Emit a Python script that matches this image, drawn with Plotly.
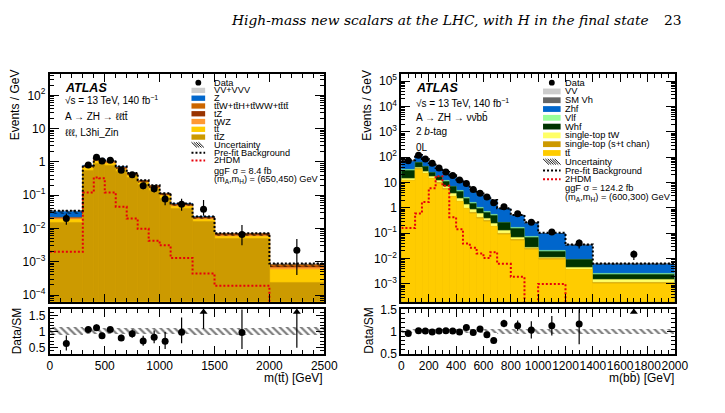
import plotly.graph_objects as go

W, H = 725, 413
FONT = "Liberation Sans, Arial, sans-serif"

# ---------------- left: A -> ZH -> lltt ----------------
L_edges = [0, 300, 400, 450, 500, 600, 700, 800, 900, 1000, 1100, 1300, 1500, 2000, 2500]
L_ttZ = [0.0146, 0.56, 0.91, 0.91, 0.78, 0.52, 0.33, 0.2, 0.14, 0.081, 0.04, 0.016, 0.005, 0.00024]
L_tt = [0.0044, 0.09, 0.14, 0.14, 0.12, 0.08, 0.05, 0.031, 0.022, 0.013, 0.006, 0.0027, 0.0008, 0.00034]
L_tWZ = [0.0008, 0.03, 0.05, 0.05, 0.043, 0.029, 0.018, 0.011, 0.008, 0.005, 0.0023, 0.001, 0.0003, 0.00007]
L_tZ = [0.0005, 0.025, 0.04, 0.04, 0.035, 0.023, 0.014, 0.009, 0.006, 0.004, 0.0019, 0.0008, 0.00025, 0.00006]
L_ttW = [0.0007, 0.035, 0.065, 0.065, 0.06, 0.04, 0.024, 0.016, 0.011, 0.0062, 0.0033, 0.0013, 0.0004, 0.00009]
L_Z = [0.0108, 0.008, 0.012, 0.012, 0.01, 0.006, 0.003, 0.002, 0.002, 0.0006, 0.0004, 0.0001, 0.00004, 0.00001]
L_VV = [0.0002, 0.002, 0.003, 0.003, 0.002, 0.002, 0.001, 0.001, 0.001, 0.0002, 0.0001, 0.0001, 0.00001, 0.00001]
L_data = [0.02, 0.8, 1.37, 1.06, 1.12, 0.56, 0.41, 0.19, 0.156, 0.077, 0.053, 0.038, 0.0066, 0.0022]
L_err_up = [0.008, 0.07, 0.12, 0.1, 0.085, 0.07, 0.06, 0.045, 0.04, 0.032, 0.025, 0.034, 0.006, 0.0026]
L_err_dn = [0.007, 0.07, 0.11, 0.1, 0.08, 0.065, 0.055, 0.04, 0.035, 0.027, 0.019, 0.014, 0.0035, 0.0018]
L_prefit = [0.034, 0.78, 1.25, 1.25, 1.1, 0.73, 0.46, 0.28, 0.2, 0.115, 0.056, 0.023, 0.0072, 0.00088]
L_signal = [0.002, 0.12, 0.34, 0.32, 0.12, 0.045, 0.02, 0.0098, 0.0043, 0.0031, 0.0013, 0.00044, 0.00019, 0.00005]
L_unc = [0.12, 0.1, 0.1, 0.1, 0.1, 0.1, 0.1, 0.1, 0.1, 0.1, 0.1, 0.11, 0.11, 0.12]
L_comps = [L_ttZ, L_tt, L_tWZ, L_tZ, L_ttW, L_Z, L_VV]
L_colors = ["#cc9a00", "#ffcc00", "#ff9933", "#993300", "#cc6600", "#0066cc", "#cccccc"]

# ---------------- right: A -> ZH -> vvbb ----------------
R_edges = [0, 100, 150, 200, 250, 300, 350, 400, 450, 500, 550, 600, 650, 700, 800, 900, 1000, 1200, 1400, 2000]
R_tt = [11.5, 33, 22, 14, 9.5, 5.5, 2.7, 1.7, 0.9, 0.6, 0.38, 0.3, 0.18, 0.09, 0.052, 0.023, 0.0095, 0.0035, 0.001]
R_stop_st = [0.5, 1, 0.8, 0.5, 0.35, 0.25, 0.15, 0.1, 0.06, 0.04, 0.03, 0.02, 0.01, 0.006, 0.003, 0.001, 0.0003, 0.0003, 0.0001]
R_stop_tW = [2.5, 4, 3.5, 2.5, 1.8, 1.2, 0.9, 0.6, 0.4, 0.22, 0.16, 0.07, 0.04, 0.03, 0.015, 0.004, 0.0015, 0.0004, 0.0004]
R_Whf = [16, 22, 15, 7, 5, 4, 2.9, 1.9, 1.0, 0.66, 0.36, 0.26, 0.28, 0.125, 0.085, 0.04, 0.008, 0.0045, 0.0009]
R_Vlf = [2, 3, 2.5, 1.5, 1.0, 0.6, 0.4, 0.3, 0.2, 0.1, 0.07, 0.05, 0.04, 0.02, 0.012, 0.005, 0.0015, 0.0006, 0.0002]
R_Zhf = [36, 49, 36, 30, 17.3, 12.5, 10.7, 7.5, 5.4, 3.5, 2.4, 2.05, 1.36, 0.63, 0.33, 0.176, 0.075, 0.0246, 0.0034]
R_SMVh = [4, 5, 3, 2.5, 1.5, 1.0, 0.7, 0.5, 0.3, 0.2, 0.12, 0.1, 0.06, 0.03, 0.015, 0.007, 0.002, 0.0006, 0.0001]
R_VV = [2.5, 2, 1.2, 1.0, 0.6, 0.4, 0.3, 0.2, 0.15, 0.1, 0.07, 0.05, 0.03, 0.015, 0.008, 0.004, 0.002, 0.0005, 0.0001]
R_data = [72, 121, 85, 58.5, 37.5, 26, 19, 12.7, 9.2, 5.3, 3.8, 2.7, 1.6, 1.12, 0.59, 0.27, 0.113, 0.041, 0.0148]
R_err = [1.5, 2.4, 2.0, 1.5, 1.2, 1.0, 0.8, 0.5, 0.4, 0.3, 0.2, 0.17, 0.12, 0.08, 0.06, 0.05, 0.022, 0.016, 0.006]
R_prefit = [77, 122, 86, 60, 38, 26, 19.3, 13.2, 8.6, 5.5, 3.7, 3.0, 2.05, 0.98, 0.53, 0.27, 0.104, 0.036, 0.0064]
R_signal = [0.16, 0.6, 1.7, 6, 18, 7.5, 0.43, 0.145, 0.039, 0.027, 0.016, 0.0105, 0.018, 0.0062, 0.0019, 1e-6, 0.001, 1e-6, 1e-6]
R_unc = [0.05, 0.04, 0.04, 0.04, 0.04, 0.04, 0.04, 0.04, 0.04, 0.05, 0.05, 0.05, 0.05, 0.06, 0.06, 0.06, 0.06, 0.06, 0.06]
R_comps = [R_tt, R_stop_st, R_stop_tW, R_Whf, R_Vlf, R_Zhf, R_SMVh, R_VV]
R_colors = ["#ffcc00", "#cc9900", "#ffff66", "#003300", "#99ff99", "#0066cc", "#666666", "#cccccc"]


def px(x):
    return x / W


def py(y):
    return 1 - y / H


def centers(e):
    return [(a + b) / 2 for a, b in zip(e[:-1], e[1:])]


def widths(e):
    return [b - a for a, b in zip(e[:-1], e[1:])]


fig = go.Figure()

HATCH = dict(shape="\\", fgcolor="black", bgcolor="rgba(0,0,0,0)", size=5, solidity=0.45, fillmode="overlay")


def add_main(edges, comps, colors, data, up, dn, prefit, signal, unc, xa, ya):
    ctr, wid = centers(edges), widths(edges)
    n = len(ctr)
    run = [0.0] * n
    cum = []
    for c in comps:
        run = [r + v for r, v in zip(run, c)]
        cum.append(run)
    for i in reversed(range(len(comps))):
        fig.add_trace(go.Bar(x=ctr, y=cum[i], width=wid, xaxis=xa, yaxis=ya,
                             marker=dict(color=colors[i], line=dict(width=0.5, color=colors[i])),
                             showlegend=False, hoverinfo="skip"))
    total = cum[-1]
    fig.add_trace(go.Bar(x=ctr, y=[2 * u * t for u, t in zip(unc, total)],
                         base=[t * (1 - u) for u, t in zip(unc, total)], width=wid,
                         xaxis=xa, yaxis=ya, showlegend=False, hoverinfo="skip",
                         marker=dict(color="rgba(0,0,0,0)", line=dict(width=0), pattern=HATCH)))
    fig.add_trace(go.Scatter(x=edges, y=list(signal) + [signal[-1]], mode="lines", xaxis=xa, yaxis=ya,
                             line=dict(shape="hv", color="#e8000b", width=2, dash="2px,2px"),
                             showlegend=False, hoverinfo="skip"))
    fig.add_trace(go.Scatter(x=edges, y=list(prefit) + [prefit[-1]], mode="lines", xaxis=xa, yaxis=ya,
                             line=dict(shape="hv", color="black", width=2, dash="2px,2px"),
                             showlegend=False, hoverinfo="skip"))
    fig.add_trace(go.Scatter(x=ctr, y=data, mode="markers", xaxis=xa, yaxis=ya,
                             marker=dict(color="black", size=7),
                             error_y=dict(type="data", symmetric=False, array=up, arrayminus=dn,
                                          color="black", thickness=1.2, width=0),
                             showlegend=False, hoverinfo="skip"))
    return total


def add_ratio(edges, data, up, dn, total, unc, xa, ya, ymin, ymax):
    ctr, wid = centers(edges), widths(edges)
    fig.add_trace(go.Bar(x=ctr, y=[2 * u for u in unc], base=[1 - u for u in unc], width=wid,
                         xaxis=xa, yaxis=ya, showlegend=False, hoverinfo="skip",
                         marker=dict(color="rgba(0,0,0,0)", line=dict(width=0), pattern=HATCH)))
    xs, ys, eu, ed = [], [], [], []
    ax_, ay_, aed = [], [], []
    for c, d, u, l, t in zip(ctr, data, up, dn, total):
        r = d / t
        if r > ymax:
            ym = ymax - 0.06 * (ymax - ymin)
            ax_.append(c)
            ay_.append(ym)
            aed.append(max(ym - (d - l) / t, 0))
        else:
            xs.append(c)
            ys.append(r)
            eu.append(u / t)
            ed.append(l / t)
    fig.add_trace(go.Scatter(x=xs, y=ys, mode="markers", xaxis=xa, yaxis=ya,
                             marker=dict(color="black", size=7),
                             error_y=dict(type="data", symmetric=False, array=eu, arrayminus=ed,
                                          color="black", thickness=1.2, width=0),
                             showlegend=False, hoverinfo="skip"))
    fig.add_trace(go.Scatter(x=ax_, y=ay_, mode="markers", xaxis=xa, yaxis=ya,
                             marker=dict(color="black", size=7, symbol="triangle-up"),
                             error_y=dict(type="data", symmetric=False, array=[0] * len(ax_), arrayminus=aed,
                                          color="black", thickness=1.2, width=0),
                             showlegend=False, hoverinfo="skip", cliponaxis=False))


L_total = add_main(L_edges, L_comps, L_colors, L_data, L_err_up, L_err_dn, L_prefit, L_signal, L_unc, "x", "y")
add_ratio(L_edges, L_data, L_err_up, L_err_dn, L_total, L_unc, "x2", "y2", 0.3, 1.7)
R_total = add_main(R_edges, R_comps, R_colors, R_data, R_err, R_err, R_prefit, R_signal, R_unc, "x3", "y3")
add_ratio(R_edges, R_data, R_err, R_err, R_total, R_unc, "x4", "y4", 0.5, 1.5)

tickfont = dict(family=FONT, size=12, color="black")
common = dict(showline=True, linewidth=2, linecolor="black", mirror="allticks", ticks="inside",
              tickcolor="black", tickwidth=1.2, showgrid=False, zeroline=False, tickangle=0)


def xaxis(dom, rng, dtick, mstep, anchor, labels):
    return dict(domain=dom, range=rng, anchor=anchor, tick0=0, dtick=dtick, ticklen=8,
                showticklabels=labels, tickfont=tickfont,
                minor=dict(ticks="inside", ticklen=4, tickwidth=1, tickcolor="black", tick0=0, dtick=mstep),
                **common)


def sup(k):
    if k == 0:
        return "1"
    if k == 1:
        return "10"
    return "10<sup>%s</sup>" % (str(k).replace("-", "\u2212"))


def logaxis(dom, lo, hi, anchor):
    ks = list(range(int(lo) - 1, int(hi) + 2))
    return dict(domain=dom, type="log", range=[lo, hi], anchor=anchor, tickmode="array",
                tickvals=[10.0 ** k for k in ks], ticktext=[sup(k) for k in ks], ticklen=9,
                tickfont=dict(family=FONT, size=12, color="black"),
                minor=dict(ticks="inside", ticklen=4, tickwidth=1, tickcolor="black",
                           tickvals=[m * 10.0 ** k for k in ks for m in range(2, 10)]),
                **common)


def ratioaxis(dom, lo, hi, anchor):
    return dict(domain=dom, range=[lo, hi], anchor=anchor, tickmode="array",
                tickvals=[0.5, 1, 1.5], ticktext=["0.5", "1", "1.5"], ticklen=8, tickfont=tickfont,
                minor=dict(ticks="inside", ticklen=4, tickwidth=1, tickcolor="black", tick0=0, dtick=0.1),
                **common)


Lx = [px(48), px(329)]
Rx = [px(408), px(688)]
main_y = [py(305), py(69)]
rat_y = [py(359), py(313)]

fig.update_layout(
    width=W, height=H, margin=dict(l=0, r=0, t=0, b=0),
    paper_bgcolor="white", plot_bgcolor="white", barmode="overlay", bargap=0,
    showlegend=False, font=dict(family=FONT, color="black"),
    xaxis=xaxis(Lx, [0, 2500], 500, 100, "y", False),
    yaxis=logaxis(main_y, -4.2, 2.65, "x"),
    xaxis2=xaxis(Lx, [0, 2500], 500, 100, "y2", True),
    yaxis2=ratioaxis(rat_y, 0.3, 1.7, "x2"),
    xaxis3=xaxis(Rx, [0, 2000], 200, 50, "y3", False),
    yaxis3=logaxis(main_y, -3.7, 5.3, "x3"),
    xaxis4=xaxis(Rx, [0, 2000], 200, 50, "y4", True),
    yaxis4=ratioaxis(rat_y, 0.5, 1.5, "x4"),
)

ann = []
shapes = []


def text(x, y, s, size=9, anchor="left", angle=0, family=FONT):
    ann.append(dict(x=px(x), y=py(y), xref="paper", yref="paper", text=s, showarrow=False,
                    xanchor=anchor, yanchor="middle", textangle=angle, borderpad=0,
                    font=dict(family=family, size=size, color="black")))


# header
text(232, 13, "<i>High-mass new scalars at the LHC, with H in the final state</i>", 13.8, "left",
     family="DejaVu Serif, serif")
text(676, 13, "23", 13.8, "left", family="DejaVu Serif, serif")

# axis titles
text(12, 101, "Events / GeV", 12, "center", -90)
text(372, 102, "Events / GeV", 12, "center", -90)
text(14, 335, "Data/SM", 12, "center", -90)
text(374, 335, "Data/SM", 12, "center", -90)
text(329, 384, "m(tt\u0304) [GeV]", 12, "right")
text(688, 384, "m(bb\u0304) [GeV]", 12, "right")

# ATLAS labels
text(62, 84, "<b><i>ATLAS</i></b>", 12.5)
text(62, 96, "\u221as = 13 TeV, 140 fb<sup>\u22121</sup>", 10)
text(62, 113, "A \u2192 ZH \u2192 \u2113\u2113tt\u0304", 10)
text(62, 130, "\u2113\u2113\u2113, L3hi_Zin", 10)

text(422, 84, "<b><i>ATLAS</i></b>", 12.5)
text(422, 99, "\u221as = 13 TeV, 140 fb<sup>\u22121</sup>", 10)
text(422, 113.5, "A \u2192 ZH \u2192 \u03bd\u03bd\u0304bb\u0304", 10)
text(422, 128.5, "2 <i>b</i>-tag", 10)
text(422, 145.5, "0L", 10)


def legend(x0, x1, tx, y0, step, entries, extra, size, bh):
    xc = (x0 + x1) / 2
    for i, (kind, col, label) in enumerate(entries):
        y = y0 + i * step
        if kind == "data":
            r = 3
            shapes.append(dict(type="circle", xref="paper", yref="paper", x0=px(xc - r), x1=px(xc + r),
                               y0=py(y + r), y1=py(y - r), fillcolor="black", line=dict(width=0)))
        elif kind == "box":
            shapes.append(dict(type="rect", xref="paper", yref="paper", x0=px(x0), x1=px(x1),
                               y0=py(y + bh / 2), y1=py(y - bh / 2), fillcolor=col, line=dict(width=0)))
        elif kind == "hatch":
            top, bot = y - bh / 2, y + bh / 2
            h = bot - top
            path = ""
            xs = x0
            while xs + h <= x1 + 0.01:
                path += "M%f,%f L%f,%f " % (px(xs), py(top), px(xs + h), py(bot))
                xs += 2.4
            shapes.append(dict(type="path", xref="paper", yref="paper", path=path,
                               line=dict(color="black", width=0.9)))
        elif kind == "line":
            shapes.append(dict(type="line", xref="paper", yref="paper", x0=px(x0), x1=px(x1),
                               y0=py(y), y1=py(y), line=dict(color=col, width=2, dash="2px,2px")))
        text(tx, y, label, size)
    for (y, label) in extra:
        text(tx, y, label, size)


legend(193, 207, 215, 78.3, 8.05, [
    ("data", "black", "Data"),
    ("box", L_colors[6], "VV+VVV"),
    ("box", L_colors[5], "Z"),
    ("box", L_colors[4], "tt\u0304W+tt\u0304H+tt\u0304WW+tt\u0304tt\u0304"),
    ("box", L_colors[3], "tZ"),
    ("box", L_colors[2], "tWZ"),
    ("box", L_colors[1], "tt\u0304"),
    ("box", L_colors[0], "tt\u0304Z"),
    ("hatch", "black", "Uncertainty"),
    ("line", "black", "Pre-fit Background"),
    ("line", "#e8000b", "2HDM"),
], [(169.3, "ggF \u03c3 = 8.4 fb"), (178.5, "(m<sub>A</sub>,m<sub>H</sub>) = (650,450) GeV")], 9.2, 5.5)

legend(553, 571, 574, 78.3, 9.1, [
    ("data", "black", "Data"),
    ("box", R_colors[7], "VV"),
    ("box", R_colors[6], "SM Vh"),
    ("box", R_colors[5], "Zhf"),
    ("box", R_colors[4], "Vlf"),
    ("box", R_colors[3], "Whf"),
    ("box", R_colors[2], "single-top tW"),
    ("box", R_colors[1], "single-top (s+t chan)"),
    ("box", R_colors[0], "tt\u0304"),
    ("hatch", "black", "Uncertainty"),
    ("line", "black", "Pre-fit Background"),
    ("line", "#e8000b", "2HDM"),
], [(187.7, "ggF \u03c3 = 124.2 fb"), (197, "(m<sub>A</sub>,m<sub>H</sub>) = (600,300) GeV")], 9.3, 6)

fig.update_layout(annotations=ann, shapes=shapes)
fig.write_html("out.html")
